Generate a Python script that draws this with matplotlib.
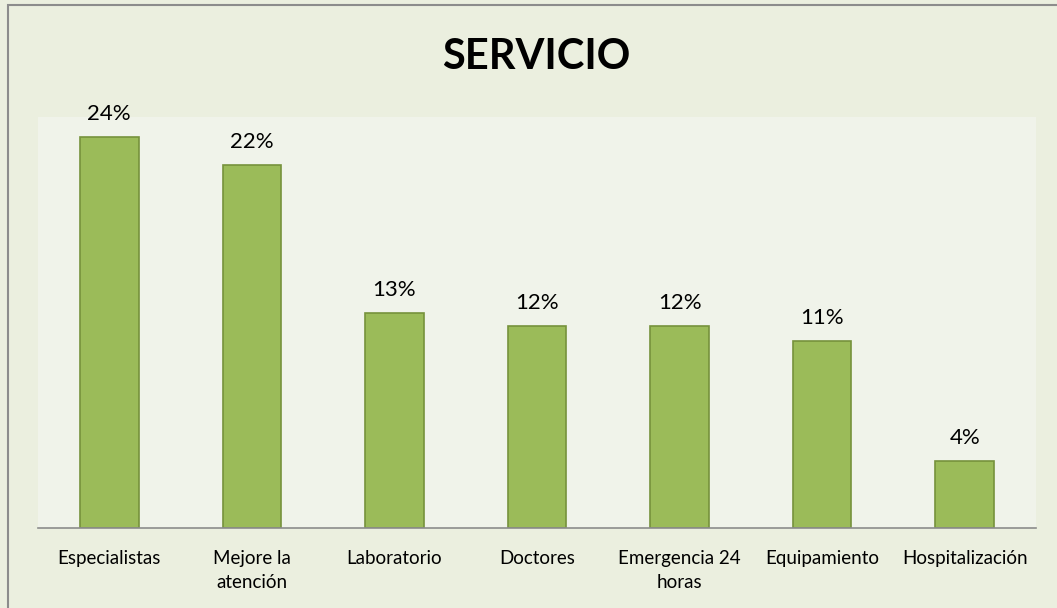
import matplotlib.pyplot as plt
import matplotlib.patches as patches

categorias = ['Especialistas', 'Mejore la\natención', 'Laboratorio', 'Doctores',
              'Emergencia 24\nhoras', 'Equipamiento', 'Hospitalización']
valores = [0.238, 0.221, 0.131, 0.123, 0.123, 0.114, 0.041]
etiquetas = ['24%', '22%', '13%', '12%', '12%', '11%', '4%']

plt.rcParams['font.family'] = ['Lato', 'DejaVu Sans']

W, H = 1057, 608
fig = plt.figure(figsize=(W / 100, H / 100), dpi=100)
fig.patch.set_facecolor('#ebefdf')

# marco exterior (solo se ven los bordes izquierdo y superior)
fig.add_artist(patches.Rectangle((8 / W, -0.05), 1.1, (H - 5) / H + 0.05,
                                 transform=fig.transFigure, facecolor='#ebefdf',
                                 edgecolor='#8c8c8c', lw=1.5, zorder=0))

ax = fig.add_axes([38 / W, (H - 528) / H, (1036 - 38) / W, (528 - 117) / H])
ax.set_facecolor('#f0f3ea')
ax.set_zorder(1)

x = range(len(categorias))
ax.bar(x, valores, width=0.41, color='#9bbb59', edgecolor='#76923c', lw=1.2)
for i, (v, t) in enumerate(zip(valores, etiquetas)):
    ax.text(i, v + 0.0075, t, ha='center', va='bottom', fontsize=16)

ax.set_xlim(-0.5, len(categorias) - 0.5)
ax.set_ylim(0, 0.25)
ax.set_yticks([])
ax.set_xticks(list(x))
ax.set_xticklabels(categorias, fontsize=13.5, linespacing=1.5)
ax.tick_params(axis='x', length=0, pad=16)
for s in ['top', 'right', 'left']:
    ax.spines[s].set_visible(False)
ax.spines['bottom'].set_color('#8c8c8c')
ax.spines['bottom'].set_linewidth(1.2)

fig.text(536 / W, (H - 57) / H, 'SERVICIO', ha='center', va='center',
         fontsize=30, fontweight='bold')

fig.savefig('out.png', dpi=100, facecolor=fig.get_facecolor())
